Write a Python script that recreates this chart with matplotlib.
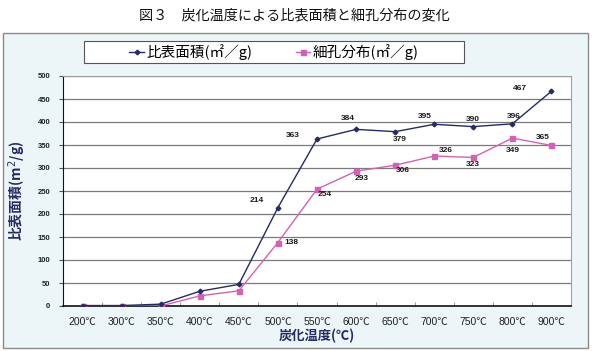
import numpy as np
import matplotlib.pyplot as plt
from matplotlib.patches import Rectangle

plt.rcParams['font.family'] = ['Noto Sans CJK JP', 'DejaVu Sans']
num_font = ['Liberation Sans', 'Noto Sans CJK JP', 'DejaVu Sans']

# === Data ===
temps = ['200℃', '300℃', '350℃', '400℃', '450℃', '500℃', '550℃',
         '600℃', '650℃', '700℃', '750℃', '800℃', '900℃']
surface = [1, 1, 4, 32, 47, 214, 363, 384, 379, 395, 390, 396, 467]
pore = [0, 0, 0, 22, 33, 138, 254, 293, 306, 326, 323, 365, 349]

# labels as printed on the original (only from 500℃ on)
surface_labels = ['', '', '', '', '', '214', '363', '384', '379', '395', '390', '396', '467']
pore_labels = ['', '', '', '', '', '138', '254', '293', '306', '326', '323', '349', '365']

# label offsets in pixels (dx, dy)
surface_off = [None]*5 + [(-21, 7), (-24, 4), (-8, 11), (5, -8), (-9, 8), (0, 7), (1, 7), (-32, 3)]
pore_off = [None]*5 + [(13, 0), (8, -5), (6, -7), (8, -5), (12, 6), (0, -7), (0, -12), (-9, 8)]

navy = '#252B66'
pink = '#D462B2'

fig = plt.figure(figsize=(5.92, 3.51), dpi=100)
fig.patch.set_facecolor('white')

# outer panel
fig.add_artist(Rectangle((3/592, 1-348/351), 585/592, 315/351, transform=fig.transFigure,
                         facecolor='#ECF5F7', edgecolor='#8A8A8A', linewidth=1.0, zorder=-10))
fig.text(294/592, 1-15/351, '図３　炭化温度による比表面積と細孔分布の変化',
         ha='center', va='center', fontsize=10.2, color='#111111')

ax = fig.add_axes([63/592, 1-306/351, 508/592, 230/351])
ax.set_facecolor('white')
x = np.arange(len(temps))

ax.plot(x, pore, color=pink, marker='s', markersize=3.6, linewidth=1.0, label='細孔分布(㎡／g)', zorder=3)
ax.plot(x, surface, color=navy, marker='D', markersize=2.4, linewidth=1.0, label='比表面積(㎡／g)', zorder=4)

for i in range(len(temps)):
    if surface_labels[i]:
        ax.annotate(surface_labels[i], (x[i], surface[i]), xytext=surface_off[i],
                    textcoords='offset pixels', ha='center', va='center', fontsize=6,
                    family=num_font, fontweight='bold', color='#1A1A1A')
    if pore_labels[i]:
        ax.annotate(pore_labels[i], (x[i], pore[i]), xytext=pore_off[i],
                    textcoords='offset pixels', ha='center', va='center', fontsize=6,
                    family=num_font, fontweight='bold', color='#1A1A1A')

ax.set_xlim(-0.5, len(temps) - 0.5)
ax.set_ylim(0, 500)
ax.set_yticks(np.arange(0, 501, 50))
ax.yaxis.grid(True, color='#7A7A7A', linewidth=0.9)
ax.set_axisbelow(True)
ax.set_xticks(x)
ax.set_xticklabels(temps, fontsize=7.5, color='#222222', family=num_font)
ax.set_xticks(np.arange(-0.5, len(temps), 1), minor=True)
ax.tick_params(axis='x', which='major', length=0, pad=8)
ax.tick_params(axis='x', which='minor', length=3, direction='in', color='#888888')
ax.tick_params(axis='y', length=3, color='#555555', pad=6)
for lab in ax.get_yticklabels():
    lab.set_color('#222222')
    lab.set_family(num_font)
    lab.set_fontsize(5.5)
    lab.set_fontweight('bold')

for s in ['top', 'right']:
    ax.spines[s].set_color('#A0A0A0')
ax.spines['left'].set_color('#111111')
ax.spines['bottom'].set_color('#111111')
ax.spines['bottom'].set_linewidth(1.2)

ax.set_xlabel('炭化温度(℃)', fontsize=9.5, color=navy, fontweight='bold', labelpad=1)
ax.set_ylabel('比表面積(m$^2$/g)', fontsize=10, color=navy, fontweight='bold', labelpad=7)

# legend frame drawn separately (content sits off-centre in the original)
fig.add_artist(Rectangle((84/592, 1-63/351), 380/592, 22/351, transform=fig.transFigure,
                         facecolor='white', edgecolor='#555555', linewidth=0.8, zorder=1))
h, l = ax.get_legend_handles_labels()
leg = fig.legend(h[::-1], l[::-1], loc='center', bbox_to_anchor=(274/592, 1-52/351), ncol=2,
                 fontsize=10.5, frameon=False,
                 columnspacing=3.0, handlelength=1.0, handletextpad=0.15, borderpad=0.3)
leg.set_zorder(2)

fig.savefig('out.png', dpi=100)
